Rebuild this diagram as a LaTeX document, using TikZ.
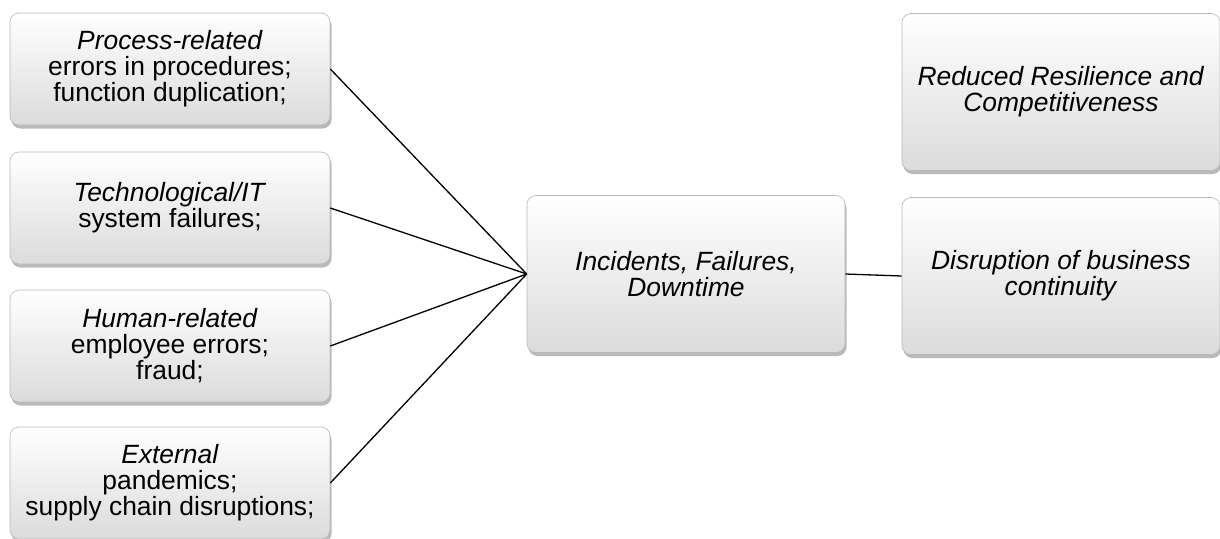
\documentclass[tikz,border=0pt]{standalone}
\usepackage{fontspec}
\setmainfont{Liberation Sans}
\usetikzlibrary{shadows}
\begin{document}
\begin{tikzpicture}[x=1pt,y=-1pt,
  box/.style={rounded corners=9pt, top color=white, bottom color=black!14,
    draw=black!28, line width=0.6pt, align=center, inner sep=0pt,
    font=\fontsize{26.4}{26}\selectfont,
    drop shadow={shadow xshift=1.5pt, shadow yshift=-3.5pt, opacity=0.45, fill=black!60}},
  lbox/.style={box, minimum width=320pt, minimum height=112pt},
  bbox/.style={box, minimum width=318pt, minimum height=157pt},
  conn/.style={line width=1.3pt, black}]
\useasboundingbox (0,0) rectangle (1220,538);
\node[lbox] (p) at (170,69) {\textit{Process-related}\\errors in procedures;\\function duplication;};
\node[lbox] (t) at (170,208) {\textit{Technological/IT}\\system failures;};
\node[lbox] (h) at (170,346) {\textit{Human-related}\\employee errors;\\fraud;};
\node[lbox] (e) at (170,483) {\textit{External}\\pandemics;\\supply chain disruptions;};
\node[bbox] (c) at (686,274) {\textit{Incidents, Failures,}\\\textit{Downtime}};
\node[bbox] (r) at (1061,92) {\textit{Reduced Resilience and}\\\textit{Competitiveness}};
\node[bbox] (d) at (1061,276) {\textit{Disruption of business}\\\textit{continuity}};
\draw[conn] (p.east) -- (c.west);
\draw[conn] (t.east) -- (c.west);
\draw[conn] (h.east) -- (c.west);
\draw[conn] (e.east) -- (c.west);
\draw[conn] (c.east) -- (d.west);
\end{tikzpicture}
\end{document}
